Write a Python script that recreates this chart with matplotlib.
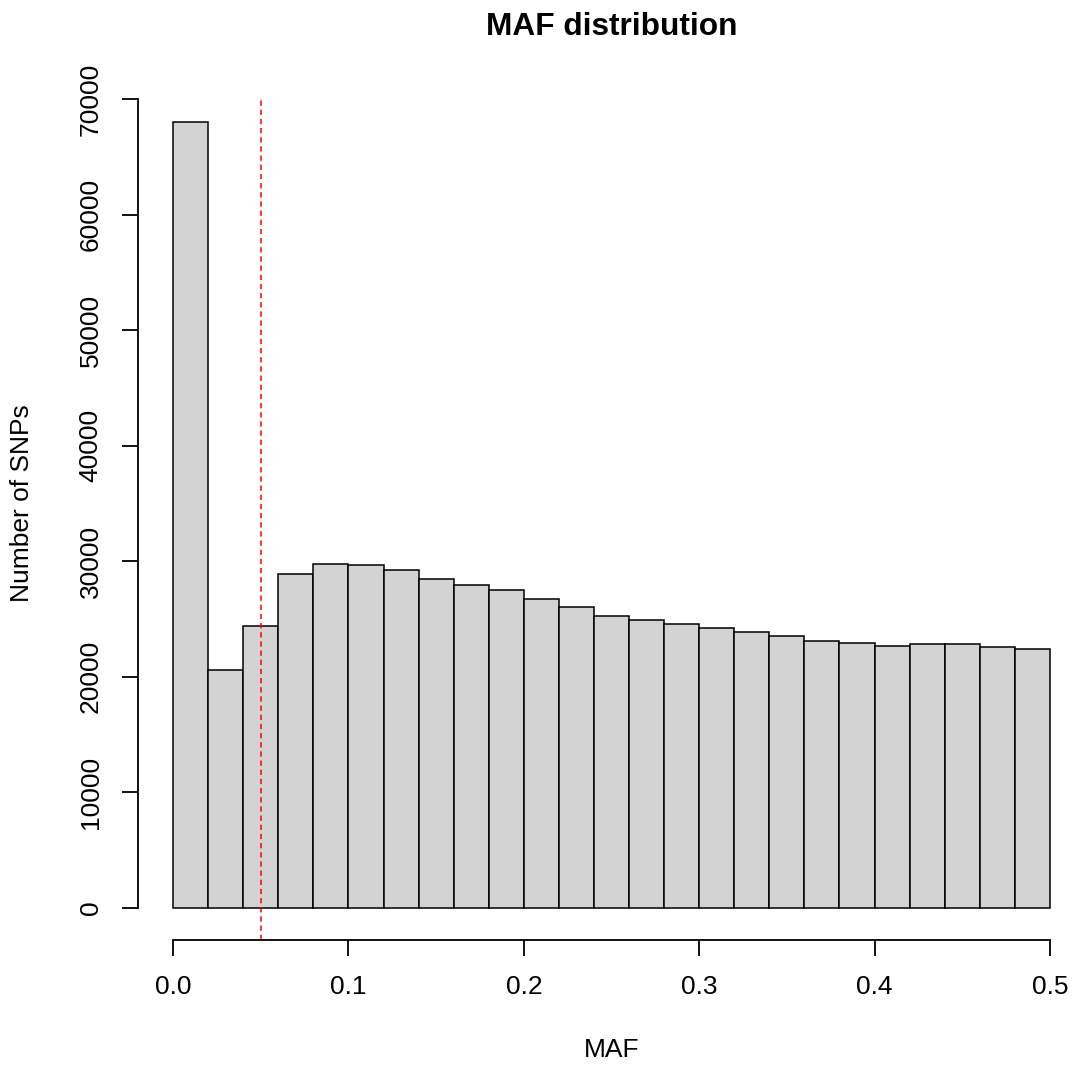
import numpy as np
import matplotlib
matplotlib.use('Agg')
import matplotlib.pyplot as plt

plt.rcParams['font.family'] = ['Liberation Sans', 'DejaVu Sans']

# histogram of minor allele frequency, bins of width 0.02
bin_edges = np.round(np.arange(0, 0.5001, 0.02), 2)
snp_counts = [68000, 20600, 24400, 28900, 29750, 29700, 29200, 28450, 27900, 27550,
              26750, 26050, 25300, 24950, 24550, 24250, 23900, 23500, 23050, 22880,
              22700, 22850, 22800, 22600, 22400]
maf_cutoff = 0.05
yticks = [0, 10000, 20000, 30000, 40000, 50000, 60000, 70000]
xticks = [0.0, 0.1, 0.2, 0.3, 0.4, 0.5]
xtick_labels = ['0.0', '0.1', '0.2', '0.3', '0.4', '0.5']

W, H = 1076, 1070
fig = plt.figure(figsize=(W / 100, H / 100), dpi=100)
ax = fig.add_axes([138 / W, 1 - 940 / H, 947 / W, 873 / H])

ax.bar(bin_edges[:-1], snp_counts, width=np.diff(bin_edges), align='edge',
       color='#d3d3d3', edgecolor='black', linewidth=1.1)
ax.vlines(maf_cutoff, -2800, 70200, colors='red', linestyles=(0, (3.5, 2.5)), linewidth=1.1)

ax.set_xlim(-0.02, 0.52)
ax.set_ylim(-2800, 72800)

for s in ['top', 'right']:
    ax.spines[s].set_visible(False)
ax.spines['left'].set_bounds(0, 70000)
ax.spines['bottom'].set_bounds(0, 0.5)
ax.spines['left'].set_linewidth(1.3)
ax.spines['bottom'].set_linewidth(1.3)

ax.set_xticks(xticks)
ax.set_xticklabels(xtick_labels)
ax.set_yticks(yticks)
ax.set_yticklabels([str(v) for v in yticks], rotation=90, va='center')
ax.tick_params(axis='both', length=11.5, width=1.3, labelsize=19)
ax.tick_params(axis='x', pad=14)
ax.tick_params(axis='y', pad=14)

ax.set_xlabel('MAF', fontsize=19, va='center')
ax.xaxis.set_label_coords(0.5, (940 - 1050) / 873)
ax.set_ylabel('Number of SNPs', fontsize=19, va='center')
ax.yaxis.set_label_coords((22 - 138) / 947, 0.5)

fig.text(612 / W, 1 - 27 / H, 'MAF distribution', fontsize=22.8, fontweight='bold',
         ha='center', va='center')

fig.savefig('out.png', dpi=100)
